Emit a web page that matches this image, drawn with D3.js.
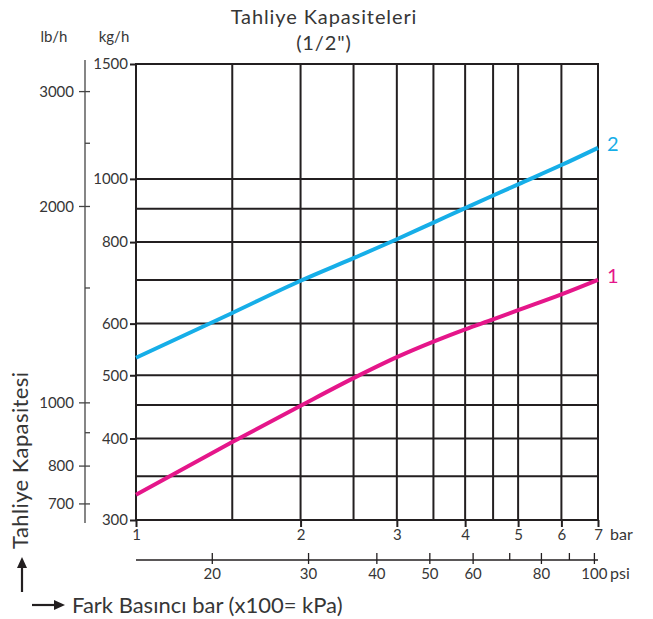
<!DOCTYPE html>
<html>
<head>
<meta charset="utf-8">
<script src="https://cdn.jsdelivr.net/npm/d3@7"></script>
<style>
  html, body { margin: 0; padding: 0; background: #fff; }
  svg { display: block; font-family: Lato, "Open Sans", sans-serif; }
  text { fill: #363636; }
</style>
</head>
<body>
<script>
// Differential pressure (bar) at which capacities are read
const pressureBar = [1, 1.5, 2, 2.5, 3, 3.5, 4, 4.5, 5, 6, 7];
// Discharge capacity, kg/h, curve 2 (blue) and curve 1 (magenta)
const capacity2 = [532, 623, 698, 756, 808, 857, 902, 943, 981, 1050, 1116];
const capacity1 = [328, 395, 449, 495, 533, 563, 588, 609, 629, 665, 700];

// Grid and tick values
const barGrid = [1, 1.5, 2, 2.5, 3, 3.5, 4, 4.5, 5, 6, 7];
const barTicks = [1, 2, 3, 4, 5, 6, 7];
const kgGrid = [300, 350, 400, 450, 500, 600, 700, 800, 900, 1000, 1500];
const kgTicks = [300, 400, 500, 600, 800, 1000, 1500];
const lbMajor = [700, 800, 1000, 2000, 3000];
const lbMinor = [900, 1500, 2500];
const psiMajor = [20, 30, 40, 50, 60, 80, 100];
const psiMinor = [70, 90];

const KG_TO_LB = 2.20462;
const BAR_TO_PSI = 14.5038;

const W = 653, H = 619;
const ink = "#231f20";
const blue = "#16aee8";
const pink = "#e5168a";
const tickFont = "15px";

const svg = d3.select("body").append("svg").attr("width", W).attr("height", H);

const x = d3.scaleLog().domain([1, 7]).range([136, 598]);
const y = d3.scaleLog().domain([300, 1500]).range([520, 64]);
const yLb = d3.scaleLog().domain([300 * KG_TO_LB, 1500 * KG_TO_LB]).range([520, 64]);
const xPsi = d3.scaleLog().domain([1 * BAR_TO_PSI, 7 * BAR_TO_PSI]).range([136, 598]);

// Title
svg.append("text").attr("x", 324).attr("y", 24).attr("text-anchor", "middle")
  .style("font-size", "20px").style("letter-spacing", "0.9px").text("Tahliye Kapasiteleri");
svg.append("text").attr("x", 324).attr("y", 50).attr("text-anchor", "middle")
  .style("font-size", "20px").style("letter-spacing", "0.9px").text("(1/2\")");

// Unit headers
svg.append("text").attr("x", 54).attr("y", 42).attr("text-anchor", "middle")
  .style("font-size", "15px").text("lb/h");
svg.append("text").attr("x", 114).attr("y", 42).attr("text-anchor", "middle")
  .style("font-size", "15px").text("kg/h");

// Grid
const grid = svg.append("g").attr("stroke", ink).attr("stroke-width", 2).attr("fill", "none");
grid.selectAll(".v").data(barGrid).join("line")
  .attr("x1", d => x(d)).attr("x2", d => x(d))
  .attr("y1", y(1500) - 1).attr("y2", y(300) + 1);
grid.selectAll(".h").data(kgGrid).join("line")
  .attr("x1", x(1) - 1).attr("x2", x(7) + 1)
  .attr("y1", d => y(d)).attr("y2", d => y(d));

// kg/h axis
const yAxis = svg.append("g").attr("transform", `translate(${x(1)},0)`)
  .call(d3.axisLeft(y).tickValues(kgTicks).tickFormat(d3.format("d")).tickSize(6).tickPadding(2));
yAxis.select(".domain").remove();
yAxis.selectAll(".tick line").attr("stroke", ink).attr("stroke-width", 2);
yAxis.selectAll(".tick text").style("font-size", tickFont).style("font-family", "Lato, sans-serif").attr("fill", "#363636");

// bar axis
const xAxis = svg.append("g").attr("transform", `translate(0,${y(300)})`)
  .call(d3.axisBottom(x).tickValues(barTicks).tickFormat(d3.format("d")).tickSize(7).tickPadding(2));
xAxis.select(".domain").remove();
xAxis.selectAll(".tick line").attr("stroke", ink).attr("stroke-width", 2);
xAxis.selectAll(".tick text").style("font-size", tickFont).style("font-family", "Lato, sans-serif").attr("fill", "#363636");
svg.append("text").attr("x", 610).attr("y", 540).style("font-size", "16px").text("bar");

// lb/h axis
const lbX = 85;
const lb = svg.append("g").attr("stroke", "#444").attr("stroke-width", 1.3);
lb.append("line").attr("x1", lbX).attr("x2", lbX).attr("y1", 60).attr("y2", 523);
lb.selectAll(".maj").data(lbMajor).join("line")
  .attr("x1", lbX - 6).attr("x2", lbX + 5).attr("y1", d => yLb(d)).attr("y2", d => yLb(d));
lb.selectAll(".min").data(lbMinor).join("line")
  .attr("x1", lbX).attr("x2", lbX + 5).attr("y1", d => yLb(d)).attr("y2", d => yLb(d));
svg.append("g").selectAll("text").data(lbMajor).join("text")
  .attr("x", lbX - 11).attr("y", d => yLb(d)).attr("dy", "0.35em").attr("text-anchor", "end")
  .style("font-size", tickFont).text(d => d);

// psi axis
const psiY = 560;
const psi = svg.append("g").attr("stroke", ink).attr("stroke-width", 1.3);
psi.append("line").attr("x1", x(1)).attr("x2", x(7)).attr("y1", psiY).attr("y2", psiY);
psi.selectAll(".maj").data(psiMajor).join("line")
  .attr("x1", d => xPsi(d)).attr("x2", d => xPsi(d)).attr("y1", psiY - 7).attr("y2", psiY + 4);
psi.selectAll(".min").data(psiMinor).join("line")
  .attr("x1", d => xPsi(d)).attr("x2", d => xPsi(d)).attr("y1", psiY - 7).attr("y2", psiY);
svg.append("g").selectAll("text").data(psiMajor).join("text")
  .attr("x", d => xPsi(d)).attr("y", psiY + 19).attr("text-anchor", "middle")
  .style("font-size", tickFont).text(d => d);
svg.append("text").attr("x", 610).attr("y", 579).style("font-size", "16px").text("psi");

// Capacity curves
const line = d3.line().x(d => x(d[0])).y(d => y(d[1])).curve(d3.curveMonotoneX);
const series = [
  { name: "2", color: blue, values: capacity2 },
  { name: "1", color: pink, values: capacity1 }
];
series.forEach(s => {
  const pts = pressureBar.map((p, i) => [p, s.values[i]]);
  svg.append("path").datum(pts).attr("d", line)
    .attr("fill", "none").attr("stroke", s.color).attr("stroke-width", 4)
    .attr("stroke-linecap", "butt");
  const last = pts[pts.length - 1];
  svg.append("text").attr("x", x(last[0]) + 9).attr("y", y(last[1]) - 4).attr("dy", "0.35em")
    .style("font-size", "20px").style("fill", s.color).text(s.name);
});

// Axis titles with arrows
svg.append("text").attr("transform", "translate(28,549) rotate(-90)")
  .style("font-size", "22px").style("letter-spacing", "0.4px").text("Tahliye Kapasitesi");
const arrows = svg.append("g").attr("stroke", ink).attr("stroke-width", 2.2).attr("fill", ink);
arrows.append("line").attr("x1", 22).attr("x2", 22).attr("y1", 592).attr("y2", 566);
arrows.append("path").attr("d", "M22,557 L17,568 L27,568 Z").attr("stroke", "none");
arrows.append("line").attr("x1", 32).attr("x2", 56).attr("y1", 605).attr("y2", 605);
arrows.append("path").attr("d", "M65,605 L54,600 L54,610 Z").attr("stroke", "none");
svg.append("text").attr("x", 72).attr("y", 613).style("font-size", "22px")
  .text("Fark Basıncı bar (x100= kPa)");
</script>
</body>
</html>
